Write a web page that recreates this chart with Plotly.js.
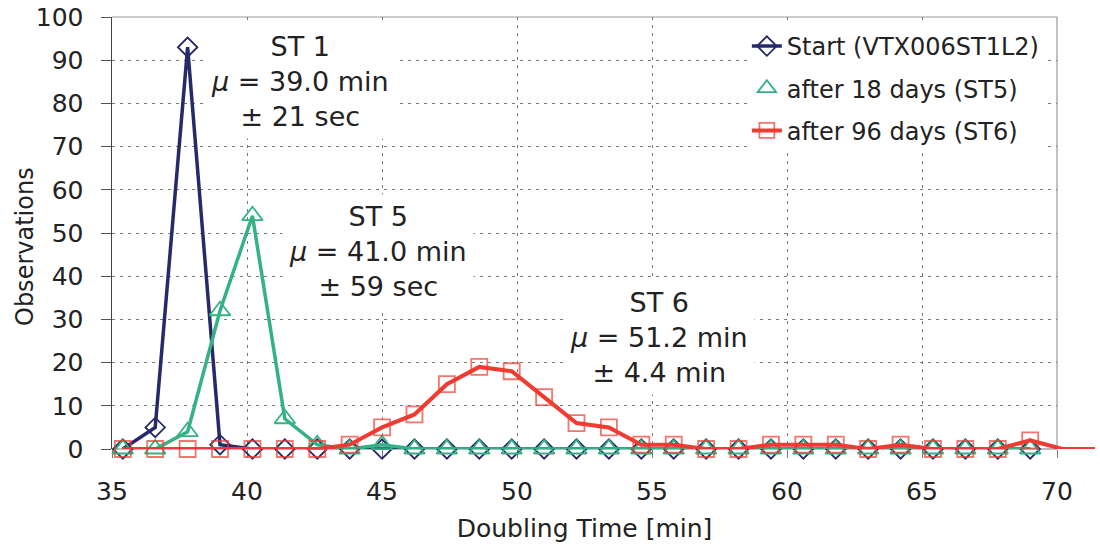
<!DOCTYPE html>
<html>
<head>
<meta charset="utf-8">
<script src="https://cdn.plot.ly/plotly-3.0.1.min.js"></script>
<style>html,body{margin:0;padding:0;background:#fff;}#chart{width:1100px;height:547px;}</style>
</head>
<body>
<div id="chart"></div>
<script>
// Doubling time bins (min)
const binsStart = [35.4, 36.6, 37.8, 39.0, 40.2, 41.4, 42.6, 43.8, 45.0, 46.2, 47.4, 48.6, 49.8, 51.0, 52.2, 53.4, 54.6, 55.8, 57.0, 58.2, 59.4, 60.6, 61.8, 63.0, 64.2, 65.4, 66.6, 67.8, 69.0];
const binsST6 = [35.4, 36.6, 37.8, 39.0, 40.2, 41.4, 42.6, 43.8, 45.0, 46.2, 47.4, 48.6, 49.8, 51.0, 52.2, 53.4, 54.6, 55.8, 57.0, 58.2, 59.4, 60.6, 61.8, 63.0, 64.2, 65.4, 66.6, 67.8, 69.0, 70.2, 71.4];

// Observations
const obsStart = [0, 5, 93, 1, 0, 0, 0, 0, 0, 0, 0, 0, 0, 0, 0, 0, 0, 0, 0, 0, 0, 0, 0, 0, 0, 0, 0, 0, 0];
const obsST5   = [0, 0, 4, 32, 54, 7, 1, 0, 1, 0, 0, 0, 0, 0, 0, 0, 0, 0, 0, 0, 0, 0, 0, 0, 0, 0, 0, 0, 0];
const obsST6   = [0, 0, 0, 0, 0, 0, 0, 1, 5, 8, 15, 19, 18, 12, 6, 5, 1, 1, 0, 0, 1, 1, 1, 0, 1, 0, 0, 0, 2, 0, 0];

const seriesNames = ["Start (VTX006ST1L2)", "after 18 days (ST5)", "after 96 days (ST6)"];
const xTickVals = [35, 40, 45, 50, 55, 60, 65, 70];
const yTickVals = [0, 10, 20, 30, 40, 50, 60, 70, 80, 90, 100];

const annTexts = [
  "ST 1<br><i>μ</i> = 39.0 min<br>± 21 sec",
  "ST 5<br><i>μ</i> = 41.0 min<br>± 59 sec",
  "ST 6<br><i>μ</i> = 51.2 min<br>± 4.4 min"
];
const annX = [41.98, 44.87, 55.27];
const annY = [85.1, 45.7, 25.75];

const cBlue = "#272a68", cGreen = "#35b283", cRed = "#ef3b31";
const FONT = "DejaVu Sans";

// markers beyond the plot frame (x > 70) are not drawn
const st6Sizes = binsST6.map(v => v > 70 ? 0 : 16);

const traces = [
  {x: binsStart, y: obsStart, name: seriesNames[0], legendgroup: "a", mode: "lines+markers", xaxis: "x2", yaxis: "y2",
   line: {color: cBlue, width: 3.5}, cliponaxis: false,
   marker: {symbol: "diamond-open", size: 15, color: cBlue, line: {width: 1.8, color: cBlue}}},
  {x: binsStart, y: obsST5, name: seriesNames[1], legendgroup: "b", mode: "lines+markers", xaxis: "x2", yaxis: "y2", showlegend: false,
   line: {color: cGreen, width: 3.5}, cliponaxis: false,
   marker: {symbol: "triangle-up-open", size: 18, color: cGreen, line: {width: 1.8, color: cGreen}}},
  {x: [null], y: [null], name: seriesNames[1], legendgroup: "b", mode: "markers", xaxis: "x2", yaxis: "y2",
   marker: {symbol: "triangle-up-open", size: 18, color: cGreen, line: {width: 1.8, color: cGreen}}},
  {x: binsST6, y: obsST6, name: seriesNames[2], legendgroup: "c", mode: "lines+markers", xaxis: "x2", yaxis: "y2",
   line: {color: cRed, width: 4}, cliponaxis: false,
   marker: {symbol: "square-open", size: st6Sizes, color: cRed, line: {width: 1.8, color: cRed}}}
];

const gridStyle = {showgrid: true, gridcolor: "#7a7a7a", gridwidth: 1, griddash: "3px,5px"};

const layout = {
  width: 1100, height: 547,
  margin: {l: 112, r: 5, t: 17, b: 98},
  paper_bgcolor: "#ffffff",
  plot_bgcolor: "rgba(0,0,0,0)",
  font: {family: FONT, size: 24, color: "#222"},
  xaxis: Object.assign({
    domain: [0, 945/983], range: [35, 70], anchor: "y",
    tickvals: xTickVals, ticks: "outside", ticklen: 8, tickcolor: "#777", tickwidth: 1,
    ticklabelstandoff: 12,
    tickfont: {family: FONT, size: 25, color: "#222"},
    zeroline: false, showline: false,
    title: {text: "Doubling Time [min]", font: {family: FONT, size: 25, color: "#222"}, standoff: 14}
  }, gridStyle),
  yaxis: Object.assign({
    domain: [0, 1], range: [0, 100], anchor: "x",
    tickvals: yTickVals, ticks: "outside", ticklen: 10, tickcolor: "#555", tickwidth: 1,
    ticklabelstandoff: 12,
    tickfont: {family: FONT, size: 25, color: "#222"},
    zeroline: false, showline: true, linecolor: "#444", linewidth: 1.5
  }, gridStyle),
  xaxis2: {domain: [0, 1], range: [35, 71.4], anchor: "y2", visible: false, fixedrange: true},
  yaxis2: {domain: [0, 1], range: [0, 100], anchor: "x2", visible: false, fixedrange: true},
  shapes: [
    {type: "line", xref: "x domain", yref: "y domain", x0: 0, x1: 1, y0: 1, y1: 1, line: {color: "#999", width: 1.2}, layer: "below"},
    {type: "line", xref: "x domain", yref: "y domain", x0: 1, x1: 1, y0: 0, y1: 1, line: {color: "#999", width: 1.2}, layer: "below"},
    {type: "line", xref: "x domain", yref: "y domain", x0: 0, x1: 1, y0: 0, y1: 0, line: {color: "#777", width: 1.2}, layer: "below"}
  ],
  annotations: annTexts.map((t, i) => ({
    text: t, x: annX[i], y: annY[i], xref: "x", yref: "y", showarrow: false,
    align: "center", bgcolor: "#ffffff", borderpad: 6,
    font: {family: FONT, size: 27, color: "#222"}
  })).concat([{
    text: "Observations", textangle: -90, xref: "paper", yref: "paper",
    x: (25 - 112) / 983, y: 1 - (247 - 17) / 432, xanchor: "center", yanchor: "middle",
    showarrow: false, font: {family: FONT, size: 24, color: "#222"}
  }]),
  legend: {
    x: 0.949, y: 0.984, xanchor: "right", yanchor: "top",
    traceorder: "grouped", tracegroupgap: 8,
    bgcolor: "#ffffff", borderwidth: 0,
    font: {family: FONT, size: 24, color: "#222"}
  },
  showlegend: true
};

Plotly.newPlot("chart", traces, layout, {displayModeBar: false, staticPlot: true});
</script>
</body>
</html>
